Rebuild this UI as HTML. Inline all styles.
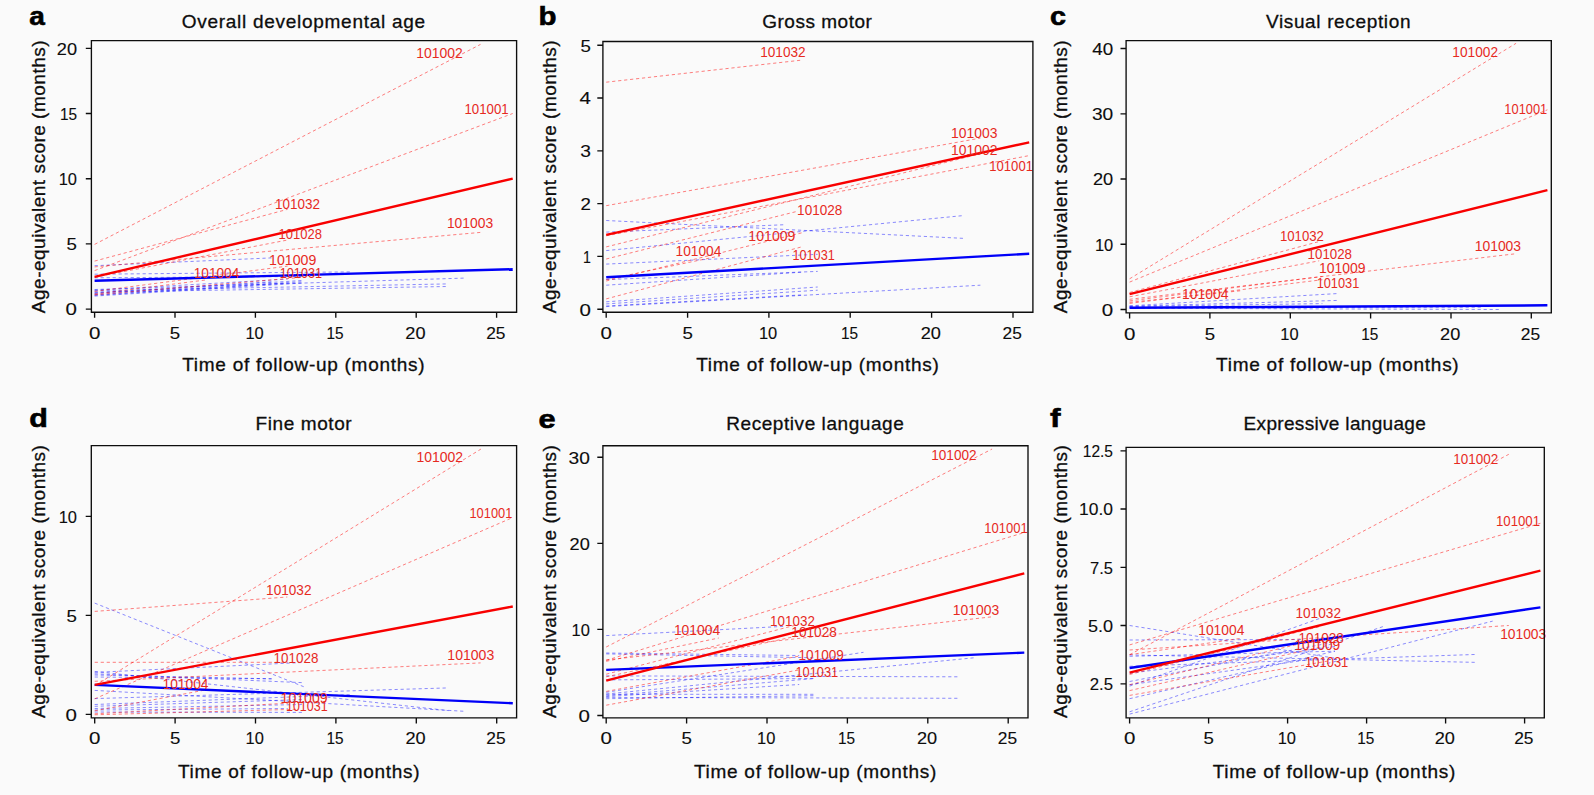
<!DOCTYPE html>
<html lang="en"><head><meta charset="utf-8"><title>Developmental age trajectories</title>
<style>html,body{margin:0;padding:0;background:#fafafa}body{width:1594px;height:795px;overflow:hidden}svg{display:block}text{font-family:"Liberation Sans", Arial, Helvetica, sans-serif}
.ax{fill:#0d0d0d;stroke:#0d0d0d;stroke-width:0}.lb{fill:#e62a1f;font-size:14.4px}.tk{font-size:16.5px;stroke-width:.12px}.tt{font-size:19px;stroke-width:.3px}.pl{font-size:26px;font-weight:bold;stroke:#000;stroke-width:.6px;fill:#000}
.rd{stroke:#ff0000;stroke-opacity:.5;stroke-width:1;stroke-dasharray:3.2 2.8;fill:none}.bd{stroke:#0000ff;stroke-opacity:.45;stroke-width:1;stroke-dasharray:3.2 2.8;fill:none}
.rs{stroke:#f80000;stroke-width:2.4;fill:none}.bs{stroke:#0000f8;stroke-width:2.4;fill:none}.fr{stroke:#0d0d0d;stroke-width:1.35;fill:none}
</style></head><body>
<svg width="1594" height="795" viewBox="0 0 1594 795">
<rect width="1594" height="795" fill="#fafafa"/>
<g id="panel-a">
<path class="bd" d="M94.6 265.7L271.5 257.9M94.6 274.2L351.9 271.9M94.6 277.8L303.6 276.5M94.6 289.5L464.4 278.1M94.6 290.8L448.4 283.9M94.6 292.1L448.4 286.5M94.6 293.5L303.6 280.4M94.6 294.8L303.6 281.7M94.6 295.4L287.6 283.0M94.6 290.2L287.6 279.1M94.6 296.1L303.6 283.0M94.6 292.8L271.5 281.7"/>
<path class="rd" d="M94.6 244.4L480.5 44.4M94.6 270.6L512.7 113.5M94.6 261.1L287.6 209.3M94.6 277.2L287.6 240.0M94.6 266.9L480.5 232.4M94.6 291.4L287.6 266.1M94.6 294.1L207.2 279.8M94.6 294.8L303.6 277.2"/>
<path class="bs" d="M94.6 280.8L512.7 269.2"/>
<path class="rs" d="M94.6 276.9L512.7 178.7"/>
<text class="lb" x="439.4" y="57.8" text-anchor="middle" textLength="46.5" lengthAdjust="spacingAndGlyphs">101002</text>
<text class="lb" x="486.6" y="114.2" text-anchor="middle" textLength="44.3" lengthAdjust="spacingAndGlyphs">101001</text>
<text class="lb" x="297.5" y="208.9" text-anchor="middle" textLength="44.9" lengthAdjust="spacingAndGlyphs">101032</text>
<text class="lb" x="300.3" y="238.7" text-anchor="middle" textLength="43.4" lengthAdjust="spacingAndGlyphs">101028</text>
<text class="lb" x="470.0" y="227.9" text-anchor="middle" textLength="46.2" lengthAdjust="spacingAndGlyphs">101003</text>
<text class="lb" x="292.7" y="264.7" text-anchor="middle" textLength="47.2" lengthAdjust="spacingAndGlyphs">101009</text>
<text class="lb" x="216.5" y="277.7" text-anchor="middle" textLength="45.6" lengthAdjust="spacingAndGlyphs">101004</text>
<text class="lb" x="300.9" y="277.7" text-anchor="middle" textLength="42.2" lengthAdjust="spacingAndGlyphs">101031</text>
<path class="fr" d="M91.4 40.6H516.6V312.2H91.4ZM94.6 312.2v5.6M175.0 312.2v5.6M255.4 312.2v5.6M335.8 312.2v5.6M416.2 312.2v5.6M496.6 312.2v5.6M91.4 309.1h-5.6M91.4 243.9h-5.6M91.4 178.7h-5.6M91.4 113.5h-5.6M91.4 48.3h-5.6"/>
<text class="ax tk" x="94.6" y="338.8" text-anchor="middle" textLength="11.4" lengthAdjust="spacingAndGlyphs">0</text>
<text class="ax tk" x="175.0" y="338.8" text-anchor="middle" textLength="10.4" lengthAdjust="spacingAndGlyphs">5</text>
<text class="ax tk" x="254.6" y="338.8" text-anchor="middle" textLength="18.3" lengthAdjust="spacingAndGlyphs">10</text>
<text class="ax tk" x="335.0" y="338.8" text-anchor="middle" textLength="17.1" lengthAdjust="spacingAndGlyphs">15</text>
<text class="ax tk" x="415.4" y="338.8" text-anchor="middle" textLength="20.2" lengthAdjust="spacingAndGlyphs">20</text>
<text class="ax tk" x="495.8" y="338.8" text-anchor="middle" textLength="19.3" lengthAdjust="spacingAndGlyphs">25</text>
<text class="ax tk" x="77.0" y="315.4" text-anchor="end" textLength="11.4" lengthAdjust="spacingAndGlyphs">0</text>
<text class="ax tk" x="77.0" y="250.2" text-anchor="end" textLength="10.4" lengthAdjust="spacingAndGlyphs">5</text>
<text class="ax tk" x="77.0" y="185.0" text-anchor="end" textLength="18.3" lengthAdjust="spacingAndGlyphs">10</text>
<text class="ax tk" x="77.0" y="119.8" text-anchor="end" textLength="17.1" lengthAdjust="spacingAndGlyphs">15</text>
<text class="ax tk" x="77.0" y="54.6" text-anchor="end" textLength="20.2" lengthAdjust="spacingAndGlyphs">20</text>
<text class="ax tt" x="303.4" y="27.6" text-anchor="middle" textLength="243.4" lengthAdjust="spacing">Overall developmental age</text>
<text class="ax tt" x="303.4" y="370.5" text-anchor="middle" textLength="242.4" lengthAdjust="spacing">Time of follow-up (months)</text>
<text class="ax tt" transform="translate(45.3 176.8) rotate(-90)" text-anchor="middle" textLength="272.8" lengthAdjust="spacing">Age-equivalent score (months)</text>
<text class="pl" x="29.3" y="25.2" textLength="15.6" lengthAdjust="spacingAndGlyphs">a</text>
</g>
<g id="panel-b">
<path class="bd" d="M606.2 220.5L964.1 238.4M606.2 232.1L785.2 224.7M606.2 250.6L964.1 215.5M606.2 264.1L817.7 254.3M606.2 279.6L817.7 271.4M606.2 285.2L801.4 272.2M606.2 301.8L817.7 287.0M606.2 303.9L817.7 290.2M606.2 306.0L801.4 294.9M606.2 306.6L980.4 285.2"/>
<path class="rd" d="M606.2 82.2L802.7 60.0M606.2 205.7L980.4 138.1M606.2 246.9L996.7 149.7M606.2 235.8L1029.2 155.6M606.2 259.0L796.6 211.5M606.2 281.0L802.7 232.6M606.2 279.6L720.1 255.9M606.2 298.9L802.7 246.6"/>
<path class="bs" d="M606.2 277.3L1029.2 253.8"/>
<path class="rs" d="M606.2 234.8L1029.2 142.4"/>
<text class="lb" x="782.9" y="56.5" text-anchor="middle" textLength="45.4" lengthAdjust="spacingAndGlyphs">101032</text>
<text class="lb" x="974.3" y="137.6" text-anchor="middle" textLength="46.4" lengthAdjust="spacingAndGlyphs">101003</text>
<text class="lb" x="974.3" y="154.5" text-anchor="middle" textLength="46.4" lengthAdjust="spacingAndGlyphs">101002</text>
<text class="lb" x="1011.1" y="170.8" text-anchor="middle" textLength="43.8" lengthAdjust="spacingAndGlyphs">101001</text>
<text class="lb" x="819.7" y="214.7" text-anchor="middle" textLength="45.2" lengthAdjust="spacingAndGlyphs">101028</text>
<text class="lb" x="771.9" y="241.0" text-anchor="middle" textLength="47.2" lengthAdjust="spacingAndGlyphs">101009</text>
<text class="lb" x="698.5" y="255.7" text-anchor="middle" textLength="45.8" lengthAdjust="spacingAndGlyphs">101004</text>
<text class="lb" x="813.6" y="259.5" text-anchor="middle" textLength="42.3" lengthAdjust="spacingAndGlyphs">101031</text>
<path class="fr" d="M602.9 41.5H1032.9V312.2H602.9ZM606.2 312.2v5.6M687.6 312.2v5.6M768.9 312.2v5.6M850.2 312.2v5.6M931.6 312.2v5.6M1013.0 312.2v5.6M602.9 309.2h-5.6M602.9 256.4h-5.6M602.9 203.6h-5.6M602.9 150.8h-5.6M602.9 98.0h-5.6M602.9 45.2h-5.6"/>
<text class="ax tk" x="606.2" y="338.8" text-anchor="middle" textLength="11.4" lengthAdjust="spacingAndGlyphs">0</text>
<text class="ax tk" x="687.6" y="338.8" text-anchor="middle" textLength="10.4" lengthAdjust="spacingAndGlyphs">5</text>
<text class="ax tk" x="768.1" y="338.8" text-anchor="middle" textLength="18.3" lengthAdjust="spacingAndGlyphs">10</text>
<text class="ax tk" x="849.5" y="338.8" text-anchor="middle" textLength="17.1" lengthAdjust="spacingAndGlyphs">15</text>
<text class="ax tk" x="930.8" y="338.8" text-anchor="middle" textLength="20.2" lengthAdjust="spacingAndGlyphs">20</text>
<text class="ax tk" x="1012.2" y="338.8" text-anchor="middle" textLength="19.3" lengthAdjust="spacingAndGlyphs">25</text>
<text class="ax tk" x="591.0" y="315.5" text-anchor="end" textLength="11.4" lengthAdjust="spacingAndGlyphs">0</text>
<text class="ax tk" x="591.0" y="262.7" text-anchor="end" textLength="7.9" lengthAdjust="spacingAndGlyphs">1</text>
<text class="ax tk" x="591.0" y="209.9" text-anchor="end" textLength="10.4" lengthAdjust="spacingAndGlyphs">2</text>
<text class="ax tk" x="591.0" y="157.1" text-anchor="end" textLength="10.7" lengthAdjust="spacingAndGlyphs">3</text>
<text class="ax tk" x="591.0" y="104.3" text-anchor="end" textLength="11.4" lengthAdjust="spacingAndGlyphs">4</text>
<text class="ax tk" x="591.0" y="51.5" text-anchor="end" textLength="10.4" lengthAdjust="spacingAndGlyphs">5</text>
<text class="ax tt" x="817.0" y="27.6" text-anchor="middle" textLength="109.7" lengthAdjust="spacing">Gross motor</text>
<text class="ax tt" x="817.5" y="370.5" text-anchor="middle" textLength="242.7" lengthAdjust="spacing">Time of follow-up (months)</text>
<text class="ax tt" transform="translate(556.3 176.8) rotate(-90)" text-anchor="middle" textLength="272.8" lengthAdjust="spacing">Age-equivalent score (months)</text>
<text class="pl" x="538.5" y="24.9" textLength="18.0" lengthAdjust="spacingAndGlyphs">b</text>
</g>
<g id="panel-c">
<path class="bd" d="M1129.6 305.8L1338.5 293.5M1129.6 306.2L1338.5 300.4M1129.6 307.5L1483.1 307.2M1129.6 308.2L1499.2 309.5M1129.6 306.6L1322.4 303.6"/>
<path class="rd" d="M1129.6 278.8L1516.1 43.3M1129.6 282.1L1547.4 109.8M1129.6 292.5L1320.8 241.1M1129.6 296.8L1319.2 260.8M1129.6 299.3L1515.3 253.8M1129.6 300.9L1322.4 276.4M1129.6 303.4L1322.4 279.7M1129.6 302.3L1242.1 290.6"/>
<path class="bs" d="M1129.6 307.8L1547.4 305.3"/>
<path class="rs" d="M1129.6 294.2L1547.4 190.1"/>
<text class="lb" x="1475.2" y="57.2" text-anchor="middle" textLength="45.7" lengthAdjust="spacingAndGlyphs">101002</text>
<text class="lb" x="1525.8" y="113.9" text-anchor="middle" textLength="42.9" lengthAdjust="spacingAndGlyphs">101001</text>
<text class="lb" x="1497.9" y="250.9" text-anchor="middle" textLength="46.4" lengthAdjust="spacingAndGlyphs">101003</text>
<text class="lb" x="1301.9" y="240.8" text-anchor="middle" textLength="44.0" lengthAdjust="spacingAndGlyphs">101032</text>
<text class="lb" x="1329.8" y="258.7" text-anchor="middle" textLength="44.5" lengthAdjust="spacingAndGlyphs">101028</text>
<text class="lb" x="1342.2" y="273.4" text-anchor="middle" textLength="46.5" lengthAdjust="spacingAndGlyphs">101009</text>
<text class="lb" x="1338.0" y="287.6" text-anchor="middle" textLength="42.7" lengthAdjust="spacingAndGlyphs">101031</text>
<text class="lb" x="1205.2" y="298.7" text-anchor="middle" textLength="46.4" lengthAdjust="spacingAndGlyphs">101004</text>
<path class="fr" d="M1126.1 40.6H1551.3V312.9H1126.1ZM1129.6 312.9v5.6M1209.9 312.9v5.6M1290.3 312.9v5.6M1370.6 312.9v5.6M1451.0 312.9v5.6M1531.3 312.9v5.6M1126.1 309.5h-5.6M1126.1 244.2h-5.6M1126.1 179.0h-5.6M1126.1 113.8h-5.6M1126.1 48.5h-5.6"/>
<text class="ax tk" x="1129.6" y="339.5" text-anchor="middle" textLength="11.4" lengthAdjust="spacingAndGlyphs">0</text>
<text class="ax tk" x="1209.9" y="339.5" text-anchor="middle" textLength="10.4" lengthAdjust="spacingAndGlyphs">5</text>
<text class="ax tk" x="1289.5" y="339.5" text-anchor="middle" textLength="18.3" lengthAdjust="spacingAndGlyphs">10</text>
<text class="ax tk" x="1369.8" y="339.5" text-anchor="middle" textLength="17.1" lengthAdjust="spacingAndGlyphs">15</text>
<text class="ax tk" x="1450.2" y="339.5" text-anchor="middle" textLength="20.2" lengthAdjust="spacingAndGlyphs">20</text>
<text class="ax tk" x="1530.5" y="339.5" text-anchor="middle" textLength="19.3" lengthAdjust="spacingAndGlyphs">25</text>
<text class="ax tk" x="1113.2" y="315.8" text-anchor="end" textLength="11.4" lengthAdjust="spacingAndGlyphs">0</text>
<text class="ax tk" x="1113.2" y="250.6" text-anchor="end" textLength="18.3" lengthAdjust="spacingAndGlyphs">10</text>
<text class="ax tk" x="1113.2" y="185.3" text-anchor="end" textLength="20.2" lengthAdjust="spacingAndGlyphs">20</text>
<text class="ax tk" x="1113.2" y="120.0" text-anchor="end" textLength="21.3" lengthAdjust="spacingAndGlyphs">30</text>
<text class="ax tk" x="1113.2" y="54.8" text-anchor="end" textLength="20.9" lengthAdjust="spacingAndGlyphs">40</text>
<text class="ax tt" x="1338.2" y="27.6" text-anchor="middle" textLength="144.6" lengthAdjust="spacing">Visual reception</text>
<text class="ax tt" x="1337.4" y="370.5" text-anchor="middle" textLength="242.6" lengthAdjust="spacing">Time of follow-up (months)</text>
<text class="ax tt" transform="translate(1067.0 176.8) rotate(-90)" text-anchor="middle" textLength="272.8" lengthAdjust="spacing">Age-equivalent score (months)</text>
<text class="pl" x="1049.9" y="25.1" textLength="16.0" lengthAdjust="spacingAndGlyphs">c</text>
</g>
<g id="panel-d">
<path class="bd" d="M94.7 603.1L303.7 686.7M94.7 672.4L302.1 662.5M94.7 675.0L271.6 678.8M94.7 698.6L448.5 687.9M94.7 690.4L464.5 711.3M94.7 671.4L448.5 710.6M94.7 677.0L271.6 678.8M94.7 706.3L303.7 699.5M94.7 708.5L303.7 704.5M94.7 710.0L287.7 708.5M94.7 712.0L303.7 712.4M94.7 673.8L303.7 682.7M94.7 704.5L352.0 694.6"/>
<path class="rd" d="M94.7 685.7L480.9 449.1M94.7 698.8L511.2 518.2M94.7 611.4L287.3 597.0M94.7 662.3L287.7 662.3M94.7 681.3L480.6 662.9M94.7 713.8L287.7 703.2M94.7 710.8L207.3 689.6M94.7 714.8L295.7 709.3"/>
<path class="bs" d="M94.7 684.9L512.8 703.2"/>
<path class="rs" d="M94.7 684.9L512.8 606.5"/>
<text class="lb" x="439.8" y="461.5" text-anchor="middle" textLength="46.7" lengthAdjust="spacingAndGlyphs">101002</text>
<text class="lb" x="490.9" y="518.2" text-anchor="middle" textLength="42.9" lengthAdjust="spacingAndGlyphs">101001</text>
<text class="lb" x="288.8" y="594.9" text-anchor="middle" textLength="45.4" lengthAdjust="spacingAndGlyphs">101032</text>
<text class="lb" x="470.8" y="659.8" text-anchor="middle" textLength="46.9" lengthAdjust="spacingAndGlyphs">101003</text>
<text class="lb" x="296.0" y="662.6" text-anchor="middle" textLength="44.8" lengthAdjust="spacingAndGlyphs">101028</text>
<text class="lb" x="185.5" y="688.9" text-anchor="middle" textLength="46.0" lengthAdjust="spacingAndGlyphs">101004</text>
<text class="lb" x="304.1" y="702.5" text-anchor="middle" textLength="47.0" lengthAdjust="spacingAndGlyphs">101009</text>
<text class="lb" x="306.8" y="710.8" text-anchor="middle" textLength="41.7" lengthAdjust="spacingAndGlyphs">101031</text>
<path class="fr" d="M91.3 445.6H516.6V717.8H91.3ZM94.7 717.8v5.6M175.1 717.8v5.6M255.5 717.8v5.6M335.9 717.8v5.6M416.3 717.8v5.6M496.7 717.8v5.6M91.3 714.4h-5.6M91.3 615.4h-5.6M91.3 516.4h-5.6"/>
<text class="ax tk" x="94.7" y="744.4" text-anchor="middle" textLength="11.4" lengthAdjust="spacingAndGlyphs">0</text>
<text class="ax tk" x="175.1" y="744.4" text-anchor="middle" textLength="10.4" lengthAdjust="spacingAndGlyphs">5</text>
<text class="ax tk" x="254.7" y="744.4" text-anchor="middle" textLength="18.3" lengthAdjust="spacingAndGlyphs">10</text>
<text class="ax tk" x="335.1" y="744.4" text-anchor="middle" textLength="17.1" lengthAdjust="spacingAndGlyphs">15</text>
<text class="ax tk" x="415.5" y="744.4" text-anchor="middle" textLength="20.2" lengthAdjust="spacingAndGlyphs">20</text>
<text class="ax tk" x="495.9" y="744.4" text-anchor="middle" textLength="19.3" lengthAdjust="spacingAndGlyphs">25</text>
<text class="ax tk" x="77.0" y="720.7" text-anchor="end" textLength="11.4" lengthAdjust="spacingAndGlyphs">0</text>
<text class="ax tk" x="77.0" y="621.7" text-anchor="end" textLength="10.4" lengthAdjust="spacingAndGlyphs">5</text>
<text class="ax tk" x="77.0" y="522.7" text-anchor="end" textLength="18.3" lengthAdjust="spacingAndGlyphs">10</text>
<text class="ax tt" x="303.6" y="430.1" text-anchor="middle" textLength="96.2" lengthAdjust="spacing">Fine motor</text>
<text class="ax tt" x="298.8" y="777.5" text-anchor="middle" textLength="241.6" lengthAdjust="spacing">Time of follow-up (months)</text>
<text class="ax tt" transform="translate(45.3 581.5) rotate(-90)" text-anchor="middle" textLength="272.8" lengthAdjust="spacing">Age-equivalent score (months)</text>
<text class="pl" x="29.3" y="427.2" textLength="18.6" lengthAdjust="spacingAndGlyphs">d</text>
</g>
<g id="panel-e">
<path class="bd" d="M606.2 635.6L783.1 626.4M606.2 653.0L799.2 655.5M606.2 653.9L815.2 657.8M606.2 675.9L960.0 676.8M606.2 679.9L815.2 678.5M606.2 692.3L863.5 652.3M606.2 694.0L976.0 657.6M606.2 695.7L815.2 678.5M606.2 694.3L815.2 694.3M606.2 697.4L960.0 698.3M606.2 698.7L815.2 695.7M606.2 696.6L799.2 684.5"/>
<path class="rd" d="M606.2 647.0L992.1 449.0M606.2 660.3L1024.3 532.5M606.2 660.0L992.1 616.8M606.2 661.3L718.8 638.0M606.2 674.2L799.2 624.2M606.2 676.8L804.0 634.6M606.2 691.4L799.2 656.1M606.2 705.2L799.2 669.9"/>
<path class="bs" d="M606.2 669.9L1024.3 652.6"/>
<path class="rs" d="M606.2 680.6L1024.3 573.4"/>
<text class="lb" x="953.9" y="459.7" text-anchor="middle" textLength="45.4" lengthAdjust="spacingAndGlyphs">101002</text>
<text class="lb" x="1006.0" y="532.5" text-anchor="middle" textLength="43.5" lengthAdjust="spacingAndGlyphs">101001</text>
<text class="lb" x="976.0" y="614.6" text-anchor="middle" textLength="46.4" lengthAdjust="spacingAndGlyphs">101003</text>
<text class="lb" x="697.1" y="634.6" text-anchor="middle" textLength="46.4" lengthAdjust="spacingAndGlyphs">101004</text>
<text class="lb" x="792.5" y="625.8" text-anchor="middle" textLength="44.8" lengthAdjust="spacingAndGlyphs">101032</text>
<text class="lb" x="814.1" y="636.7" text-anchor="middle" textLength="45.6" lengthAdjust="spacingAndGlyphs">101028</text>
<text class="lb" x="821.2" y="659.5" text-anchor="middle" textLength="45.3" lengthAdjust="spacingAndGlyphs">101009</text>
<text class="lb" x="816.8" y="677.0" text-anchor="middle" textLength="42.8" lengthAdjust="spacingAndGlyphs">101031</text>
<path class="fr" d="M602.9 445.7H1028.0V717.8H602.9ZM606.2 717.8v5.6M686.6 717.8v5.6M767.0 717.8v5.6M847.4 717.8v5.6M927.8 717.8v5.6M1008.2 717.8v5.6M602.9 715.5h-5.6M602.9 629.4h-5.6M602.9 543.3h-5.6M602.9 457.2h-5.6"/>
<text class="ax tk" x="606.2" y="744.4" text-anchor="middle" textLength="11.4" lengthAdjust="spacingAndGlyphs">0</text>
<text class="ax tk" x="686.6" y="744.4" text-anchor="middle" textLength="10.4" lengthAdjust="spacingAndGlyphs">5</text>
<text class="ax tk" x="766.2" y="744.4" text-anchor="middle" textLength="18.3" lengthAdjust="spacingAndGlyphs">10</text>
<text class="ax tk" x="846.6" y="744.4" text-anchor="middle" textLength="17.1" lengthAdjust="spacingAndGlyphs">15</text>
<text class="ax tk" x="927.0" y="744.4" text-anchor="middle" textLength="20.2" lengthAdjust="spacingAndGlyphs">20</text>
<text class="ax tk" x="1007.4" y="744.4" text-anchor="middle" textLength="19.3" lengthAdjust="spacingAndGlyphs">25</text>
<text class="ax tk" x="589.8" y="721.8" text-anchor="end" textLength="11.4" lengthAdjust="spacingAndGlyphs">0</text>
<text class="ax tk" x="589.8" y="635.7" text-anchor="end" textLength="18.3" lengthAdjust="spacingAndGlyphs">10</text>
<text class="ax tk" x="589.8" y="549.6" text-anchor="end" textLength="20.2" lengthAdjust="spacingAndGlyphs">20</text>
<text class="ax tk" x="589.8" y="463.5" text-anchor="end" textLength="21.3" lengthAdjust="spacingAndGlyphs">30</text>
<text class="ax tt" x="815.0" y="430.1" text-anchor="middle" textLength="177.5" lengthAdjust="spacing">Receptive language</text>
<text class="ax tt" x="815.1" y="777.5" text-anchor="middle" textLength="242.4" lengthAdjust="spacing">Time of follow-up (months)</text>
<text class="ax tt" transform="translate(556.3 581.5) rotate(-90)" text-anchor="middle" textLength="272.8" lengthAdjust="spacing">Age-equivalent score (months)</text>
<text class="pl" x="538.5" y="427.6" textLength="17.1" lengthAdjust="spacingAndGlyphs">e</text>
</g>
<g id="panel-f">
<path class="bd" d="M1129.6 625.5L1335.0 658.2M1129.6 640.0L1303.4 639.5M1129.6 666.3L1477.2 654.4M1129.6 656.3L1335.0 651.2M1129.6 654.9L1477.2 662.4M1129.6 673.3L1335.0 646.5M1129.6 681.5L1335.0 641.9M1129.6 686.1L1319.2 618.6M1129.6 698.7L1335.0 651.2M1129.6 711.8L1383.3 626.5M1129.6 714.1L1492.7 621.1M1129.6 684.7L1319.2 658.2"/>
<path class="rd" d="M1129.6 654.7L1508.8 454.3M1129.6 644.9L1540.4 523.3M1129.6 650.0L1508.8 625.5M1129.6 654.7L1240.2 638.4M1129.6 674.5L1319.2 626.7M1129.6 684.7L1319.2 639.1M1129.6 690.6L1319.2 647.2M1129.6 695.4L1327.1 661.2"/>
<path class="bs" d="M1129.6 668.0L1540.4 607.4"/>
<path class="rs" d="M1129.6 672.6L1540.4 570.6"/>
<text class="lb" x="1475.7" y="463.8" text-anchor="middle" textLength="45.0" lengthAdjust="spacingAndGlyphs">101002</text>
<text class="lb" x="1518.0" y="525.5" text-anchor="middle" textLength="44.1" lengthAdjust="spacingAndGlyphs">101001</text>
<text class="lb" x="1523.2" y="639.0" text-anchor="middle" textLength="46.1" lengthAdjust="spacingAndGlyphs">101003</text>
<text class="lb" x="1221.3" y="634.7" text-anchor="middle" textLength="46.1" lengthAdjust="spacingAndGlyphs">101004</text>
<text class="lb" x="1318.2" y="617.5" text-anchor="middle" textLength="45.6" lengthAdjust="spacingAndGlyphs">101032</text>
<text class="lb" x="1321.2" y="642.7" text-anchor="middle" textLength="45.3" lengthAdjust="spacingAndGlyphs">101028</text>
<text class="lb" x="1317.3" y="650.2" text-anchor="middle" textLength="45.7" lengthAdjust="spacingAndGlyphs">101009</text>
<text class="lb" x="1326.7" y="667.4" text-anchor="middle" textLength="43.2" lengthAdjust="spacingAndGlyphs">101031</text>
<path class="fr" d="M1126.1 447.3H1544.3V717.8H1126.1ZM1129.6 717.8v5.6M1208.6 717.8v5.6M1287.6 717.8v5.6M1366.6 717.8v5.6M1445.6 717.8v5.6M1524.6 717.8v5.6M1126.1 683.8h-5.6M1126.1 625.5h-5.6M1126.1 567.3h-5.6M1126.1 509.0h-5.6M1126.1 450.8h-5.6"/>
<text class="ax tk" x="1129.6" y="744.4" text-anchor="middle" textLength="11.4" lengthAdjust="spacingAndGlyphs">0</text>
<text class="ax tk" x="1208.6" y="744.4" text-anchor="middle" textLength="10.4" lengthAdjust="spacingAndGlyphs">5</text>
<text class="ax tk" x="1286.8" y="744.4" text-anchor="middle" textLength="18.3" lengthAdjust="spacingAndGlyphs">10</text>
<text class="ax tk" x="1365.8" y="744.4" text-anchor="middle" textLength="17.1" lengthAdjust="spacingAndGlyphs">15</text>
<text class="ax tk" x="1444.8" y="744.4" text-anchor="middle" textLength="20.2" lengthAdjust="spacingAndGlyphs">20</text>
<text class="ax tk" x="1523.8" y="744.4" text-anchor="middle" textLength="19.3" lengthAdjust="spacingAndGlyphs">25</text>
<text class="ax tk" x="1113.0" y="690.1" text-anchor="end" textLength="23.3" lengthAdjust="spacingAndGlyphs">2.5</text>
<text class="ax tk" x="1113.0" y="631.8" text-anchor="end" textLength="25.1" lengthAdjust="spacingAndGlyphs">5.0</text>
<text class="ax tk" x="1113.0" y="573.6" text-anchor="end" textLength="22.9" lengthAdjust="spacingAndGlyphs">7.5</text>
<text class="ax tk" x="1113.0" y="515.3" text-anchor="end" textLength="33.9" lengthAdjust="spacingAndGlyphs">10.0</text>
<text class="ax tk" x="1113.0" y="457.1" text-anchor="end" textLength="30.2" lengthAdjust="spacingAndGlyphs">12.5</text>
<text class="ax tt" x="1334.7" y="430.1" text-anchor="middle" textLength="182.3" lengthAdjust="spacing">Expressive language</text>
<text class="ax tt" x="1334.0" y="777.5" text-anchor="middle" textLength="242.6" lengthAdjust="spacing">Time of follow-up (months)</text>
<text class="ax tt" transform="translate(1067.0 581.5) rotate(-90)" text-anchor="middle" textLength="272.8" lengthAdjust="spacing">Age-equivalent score (months)</text>
<text class="pl" x="1049.9" y="427.2" textLength="10.6" lengthAdjust="spacingAndGlyphs">f</text>
</g>
</svg></body></html>
